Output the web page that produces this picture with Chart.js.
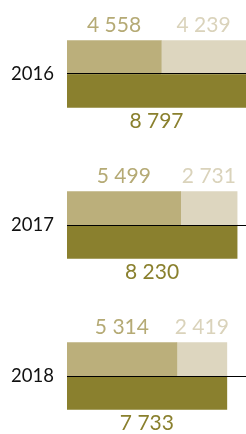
<!DOCTYPE html>
<html>
<head>
<meta charset="utf-8">
<script src="https://cdn.jsdelivr.net/npm/chart.js@4/dist/chart.umd.min.js"></script>
<style>
  html, body { margin: 0; padding: 0; background: #ffffff; }
  #wrap { width: 246px; height: 434px; position: relative; }
</style>
</head>
<body>
<div id="wrap"><canvas id="c"></canvas></div>
<script>
const years = ['2016', '2017', '2018'];
const partA = [4558, 5499, 5314];
const partB = [4239, 2731, 2419];
const totals = [8797, 8230, 7733];

const colA = '#bbaf7b';
const colB = '#ddd6bf';
const colT = '#8a802e';

function fmt(v) { return String(v).replace(/\B(?=(\d{3})+(?!\d))/g, ' '); }
function pts(arr) { return arr.map((v, i) => ({ x: v, y: i })); }

const labelPlugin = {
  id: 'valueLabels',
  afterDatasetsDraw(chart) {
    const ctx = chart.ctx;
    const area = chart.chartArea;
    ctx.save();
    ctx.font = '400 21px Lato';
    ctx.textAlign = 'center';
    ctx.textBaseline = 'middle';
    chart.data.datasets.forEach((ds, di) => {
      const meta = chart.getDatasetMeta(di);
      meta.data.forEach((bar, i) => {
        const left = Math.max(Math.min(bar.x, bar.base), area.left);
        const right = Math.min(Math.max(bar.x, bar.base), chart.width);
        const cx = (left + right) / 2;
        const h = bar.height;
        let cy;
        if (ds.stack === 'top') cy = bar.y - h / 2 - 15;
        else cy = bar.y + h / 2 + 14;
        ctx.fillStyle = ds.labelColor;
        ctx.fillText(fmt(ds.data[i].x), cx, cy);
      });
    });
    ctx.restore();
  }
};

new Chart(document.getElementById('c'), {
  type: 'bar',
  data: {
    datasets: [
      { data: pts(partA), stack: 'top', backgroundColor: colA, labelColor: '#b5aa75', barThickness: 33.5, borderWidth: 0 },
      { data: pts(partB), stack: 'top', backgroundColor: colB, labelColor: '#dad3bb', barThickness: 33.5, borderWidth: 0 },
      { data: pts(totals), stack: 'bottom', backgroundColor: colT, labelColor: '#8a802e', barThickness: 33.5, borderWidth: 0 }
    ]
  },
  options: {
    indexAxis: 'y',
    responsive: true,
    maintainAspectRatio: false,
    animation: false,
    layout: { padding: 0 },
    plugins: { legend: { display: false }, tooltip: { enabled: false } },
    scales: {
      x: { type: 'linear', display: false, min: 0, max: 8660, stacked: true },
      y: {
        type: 'linear',
        reverse: true,
        offset: false,
        min: -0.49,
        max: 2.384,
        border: { display: false },
        grid: {
          z: 1,
          offset: false,
          drawTicks: false,
          lineWidth: 1,
          color: (c) => (c.tick && Number.isInteger(c.tick.value)) ? '#000000' : 'rgba(0,0,0,0)'
        },
        ticks: {
          stepSize: 1,
          autoSkip: false,
          padding: 13,
          color: '#111111',
          font: { family: 'Lato', size: 18.5 },
          callback: (v) => (Number.isInteger(v) && years[v] !== undefined) ? years[v] : ''
        },
        afterFit: (s) => { s.width = 67; s.paddingTop = 0; s.paddingBottom = 0; }
      }
    }
  },
  plugins: [labelPlugin]
});
</script>
</body>
</html>
